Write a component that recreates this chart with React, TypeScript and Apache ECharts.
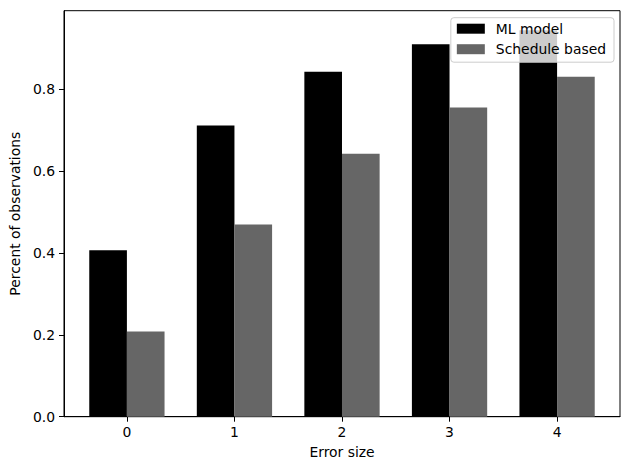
import React, { useEffect, useRef } from "react";
import * as echarts from "echarts";

const categories = [0, 1, 2, 3, 4];
const mlModel = [0.406, 0.711, 0.842, 0.909, 0.943];
const scheduleBased = [0.208, 0.469, 0.642, 0.755, 0.83];
const yTicks = [0, 0.2, 0.4, 0.6, 0.8];

const FONT = "DejaVu Sans";
const BAR_W = 0.35;

function makeBars(name: string, values: number[], offset: number, color: string) {
  return {
    name,
    type: "custom",
    data: categories.map((c, i) => [c, values[i]]),
    itemStyle: { color },
    encode: { x: 0, y: 1 },
    renderItem: (_params: any, api: any) => {
      const x = api.value(0);
      const y = api.value(1);
      const p0 = api.coord([x + offset, 0]);
      const p1 = api.coord([x + offset + BAR_W, y]);
      return {
        type: "rect",
        shape: { x: p0[0], y: p1[1], width: p1[0] - p0[0], height: p0[1] - p1[1] },
        style: { fill: color },
      };
    },
  };
}

export default function App() {
  const ref = useRef<HTMLDivElement>(null);
  useEffect(() => {
    if (!ref.current) return;
    const chart = echarts.init(ref.current, undefined, { renderer: "svg" });
    chart.setOption({
      animation: false,
      grid: {
        left: 61,
        right: 10,
        top: 10.7,
        bottom: 53.3,
        show: true,
        borderColor: "#000",
        borderWidth: 1,
        backgroundColor: "transparent",
      },
      legend: {
        right: 16,
        top: 17.7,
        orient: "vertical",
        itemWidth: 28,
        itemHeight: 10,
        itemGap: 6.5,
        padding: [4, 8, 6, 6],
        backgroundColor: "rgba(255,255,255,0.8)",
        borderColor: "#cccccc",
        borderWidth: 1,
        borderRadius: 3,
        icon: "rect",
        textStyle: {
          fontFamily: FONT,
          fontSize: 13.9,
          color: "#000",
          lineHeight: 14,
          padding: [0, 0, 0, 6],
        },
        data: ["ML model", "Schedule based"],
        z: 10,
      },
      xAxis: {
        type: "value",
        min: -0.585,
        max: 4.585,
        name: "Error size",
        nameLocation: "middle",
        nameGap: 28,
        nameTextStyle: { fontFamily: FONT, fontSize: 13.9, color: "#000" },
        splitLine: { show: false },
        axisLine: { show: true, onZero: false, lineStyle: { color: "#000", width: 1 } },
        axisTick: {
          show: true,
          length: 5,
          lineStyle: { color: "#000", width: 1 },
          customValues: categories,
        },
        axisLabel: {
          fontFamily: FONT,
          fontSize: 13.9,
          color: "#000",
          margin: 8,
          customValues: categories,
          formatter: (v: number) => String(Math.round(v)),
        },
      },
      yAxis: {
        type: "value",
        min: 0,
        max: 0.991,
        name: "Percent of observations",
        nameLocation: "middle",
        nameGap: 40,
        nameTextStyle: { fontFamily: FONT, fontSize: 13.9, color: "#000" },
        splitLine: { show: false },
        axisLine: { show: true, onZero: false, lineStyle: { color: "#000", width: 1 } },
        axisTick: {
          show: true,
          length: 5,
          lineStyle: { color: "#000", width: 1 },
          customValues: yTicks,
        },
        axisLabel: {
          fontFamily: FONT,
          fontSize: 13.9,
          color: "#000",
          margin: 9,
          customValues: yTicks,
          formatter: (v: number) => v.toFixed(1),
        },
      },
      series: [
        makeBars("ML model", mlModel, -BAR_W, "#000000"),
        makeBars("Schedule based", scheduleBased, 0, "#666666"),
      ],
    });
    return () => chart.dispose();
  }, []);
  return <div ref={ref} style={{ width: 630, height: 470, position: "absolute", left: 0, top: 0 }} />;
}
